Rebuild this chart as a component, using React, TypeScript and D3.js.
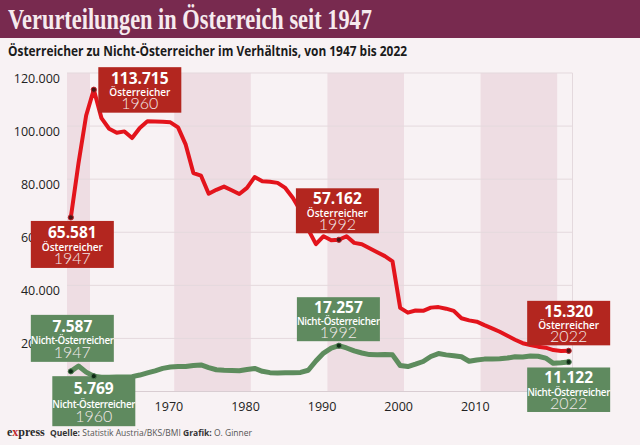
import React from "react";
import * as d3 from "d3";

const years: number[] = [1947, ...d3.range(1958, 2023)];

const oesterreicher: number[] = [
  65581, 86000, 104000,
  113715, 103000, 99000, 97500, 98000, 95500, 99300, 101800, 101700, 101600,
  101400, 99500, 93000, 82300, 81300, 74500, 76000, 77200, 75800, 74400,
  76700, 80800, 79200, 79000, 78600, 76700, 72900, 68000, 61000, 55500,
  58500, 57000, 57162, 58500, 56000, 55500, 54000, 52500, 51000, 49000,
  31500, 29700, 30500, 30400, 31600, 31800, 31200, 30400, 27600, 26800,
  26300, 25000, 23800, 22500, 21000, 19500, 18200, 17500, 16900, 16500,
  15600, 15300, 15320,
];

const nichtOesterreicher: number[] = [
  7587, 9600, 7300,
  5769, 5400, 5400, 5500, 5500, 5600, 6200, 7000, 7800, 8700,
  9200, 9400, 9400, 9800, 10000, 9000, 8200, 8000, 7900, 7800,
  8300, 8700, 7600, 7100, 7000, 7100, 7100, 7200, 8000, 11500,
  14500, 16300, 17257, 16400, 15300, 14500, 13900, 13800, 13900, 13800,
  9800, 9400, 10300, 11300, 13200, 14300, 13800, 13500, 13100, 11400,
  11900, 12200, 12200, 12300, 12600, 13100, 13000, 13400, 13300, 12600,
  10600, 10800, 11122,
];

const yTicks: number[] = [0, 20000, 40000, 60000, 80000, 100000, 120000];
const xTickYears: number[] = [1970, 1980, 1990, 2000, 2010];
const shadedRanges: [number, number][] = [
  [1947, 1959],
  [1971, 1980],
  [1991, 2000],
  [2011, 2020],
];

type Ann = { series: "a" | "n"; year: number; dx: number; dy: number; h: number };
const annotations: Ann[] = [
  { series: "a", year: 1947, dx: -40, dy: 3.5, h: 47 },
  { series: "a", year: 1960, dx: 4.5, dy: -22.5, h: 45.5 },
  { series: "a", year: 1992, dx: -43, dy: -51.5, h: 45 },
  { series: "a", year: 2022, dx: -41.5, dy: -50, h: 44.5 },
  { series: "n", year: 1947, dx: -40, dy: -56.5, h: 47 },
  { series: "n", year: 1960, dx: -41.5, dy: 0, h: 50 },
  { series: "n", year: 1992, dx: -42, dy: -48.5, h: 44 },
  { series: "n", year: 2022, dx: -41.5, dy: 5.5, h: 44.5 },
];

const RED = "#e3141c";
const RED_BOX = "#b3261f";
const GREEN = "#5d8c5d";
const GREEN_BOX = "#5f8a5f";
const BG = "#f8f2f4";
const BAND = "#eedde3";

const fmt = (v: number) => d3.format(",")(v).replace(/,/g, ".");

export default function App() {
  const W = 640;
  const H = 445;
  const left = 67;
  const right = 572.5;
  const top = 73;
  const bottom = 391.5;

  const x = d3
    .scalePoint<number>()
    .domain(d3.range(years.length))
    .range([left, right])
    .padding(0.5);
  const step = x.step();
  const xy = (yr: number) => x(years.indexOf(yr)) as number;
  const y = d3.scaleLinear().domain([0, 120000]).range([bottom, top]);

  const line = d3
    .line<number>()
    .x((_, i) => x(i) as number)
    .y((d) => y(d));

  const font = "'Open Sans', 'Noto Sans', sans-serif";

  return (
    <svg
      width={W}
      height={H}
      style={{ position: "absolute", left: 0, top: 0, display: "block" }}
    >
      <rect x={0} y={0} width={W} height={H} fill={BG} />
      {/* header */}
      <rect x={0} y={0} width={W} height={38} fill="#782a4f" />
      <text
        x={8}
        y={28.5}
        fontFamily="'Liberation Serif', 'DejaVu Serif', serif"
        fontWeight="bold"
        fontSize={29}
        fill="#f6eaee"
        textLength={364}
        lengthAdjust="spacingAndGlyphs"
      >
        Verurteilungen in Österreich seit 1947
      </text>
      <text
        x={8}
        y={55.5}
        fontFamily={font}
        fontWeight="bold"
        fontSize={14.5}
        fill="#1b1b1b"
        textLength={399}
        lengthAdjust="spacingAndGlyphs"
      >
        Österreicher zu Nicht-Österreicher im Verhältnis, von 1947 bis 2022
      </text>

      {/* shaded bands */}
      {shadedRanges.map(([a, b], i) => (
        <rect
          key={i}
          x={xy(a) - step / 2}
          y={top}
          width={xy(b) - xy(a) + step}
          height={bottom - top}
          fill={BAND}
        />
      ))}

      {/* gridlines */}
      {yTicks.map((t) => (
        <line
          key={t}
          x1={left}
          x2={right}
          y1={y(t)}
          y2={y(t)}
          stroke={t === 0 ? "#d9cdd2" : "#e4d9dd"}
          strokeWidth={1}
        />
      ))}
      <line x1={right} x2={right} y1={top} y2={bottom} stroke="#e4d9dd" />

      {/* y tick labels */}
      {yTicks.map((t) => (
        <text
          key={t}
          x={60}
          y={y(t) + 10}
          textAnchor="end"
          fontFamily={font}
          fontSize={12.5}
          fontWeight={500}
          fill="#222"
        >
          {fmt(t)}
        </text>
      ))}

      {/* x tick labels */}
      {xTickYears.map((yr) => (
        <text
          key={yr}
          x={xy(yr) - 1.5}
          y={410.5}
          textAnchor="middle"
          fontFamily={font}
          fontSize={12.5}
          fontWeight={500}
          fill="#222"
        >
          {yr}
        </text>
      ))}

      {/* lines */}
      <path
        d={line(nichtOesterreicher) || ""}
        fill="none"
        stroke={GREEN}
        strokeWidth={5}
        strokeLinejoin="round"
        strokeLinecap="round"
      />
      <path
        d={line(oesterreicher) || ""}
        fill="none"
        stroke={RED}
        strokeWidth={4}
        strokeLinejoin="round"
        strokeLinecap="round"
      />

      {/* annotation boxes */}
      {annotations.map((a, i) => {
        const idx = years.indexOf(a.year);
        const vals = a.series === "a" ? oesterreicher : nichtOesterreicher;
        const v = vals[idx];
        const px = x(idx) as number;
        const py = y(v);
        const bx = px + a.dx;
        const by = py + a.dy;
        const w = 83;
        const k = a.h / 46;
        return (
          <g key={i}>
            <rect
              x={bx}
              y={by}
              width={w}
              height={a.h}
              fill={a.series === "a" ? RED_BOX : GREEN_BOX}
            />
            <text
              x={bx + w / 2}
              y={by + 16.5 * k}
              textAnchor="middle"
              fontFamily={font}
              fontWeight="bold"
              fontSize={15.5}
              fill="#fff"
            >
              {fmt(v)}
            </text>
            <text
              x={bx + w / 2}
              y={by + 29 * k}
              textAnchor="middle"
              fontFamily={font}
              fontWeight={600}
              fontSize={a.series === "a" ? 10 : 9.8}
              fill="#fff"
              letterSpacing={a.series === "a" ? 0 : -0.3}
            >
              {a.series === "a" ? "Österreicher" : "Nicht-Österreicher"}
            </text>
            <text
              x={bx + w / 2}
              y={by + 42.5 * k}
              textAnchor="middle"
              fontFamily="Lato, 'Open Sans', sans-serif"
              fontWeight={300}
              fontSize={16}
              fill="#f3e9ea"
            >
              {a.year}
            </text>
          </g>
        );
      })}

      {/* dots */}
      {annotations.map((a, i) => {
        const idx = years.indexOf(a.year);
        const vals = a.series === "a" ? oesterreicher : nichtOesterreicher;
        return (
          <circle
            key={i}
            cx={x(idx) as number}
            cy={y(vals[idx])}
            r={2.6}
            fill={a.series === "a" ? "#4a1414" : "#0f2a16"}
            stroke={a.series === "a" ? "#c0232a" : "#4f7d52"}
            strokeWidth={1}
          />
        );
      })}

      {/* footer */}
      <text
        x={7}
        y={436}
        fontFamily="'Liberation Serif', serif"
        fontWeight="bold"
        fontSize={12}
        fill="#2a2a2a"
      >
        e<tspan fill="#c0262d">x</tspan>press
      </text>
      <text x={50} y={436} fontFamily={font} fontSize={8.5} fill="#555">
        <tspan fontWeight="bold" fill="#333">Quelle:</tspan>
        <tspan> Statistik Austria/BKS/BMI </tspan>
        <tspan fontWeight="bold" fill="#333">Grafik:</tspan>
        <tspan> O. Ginner</tspan>
      </text>
    </svg>
  );
}
